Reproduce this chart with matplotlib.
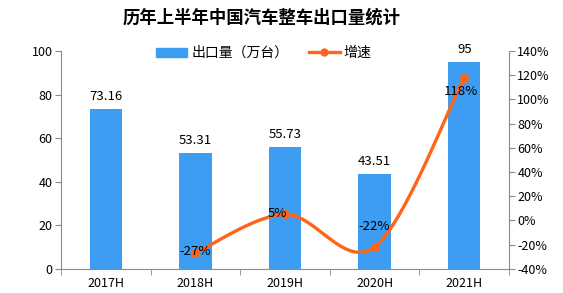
import numpy as np
import matplotlib
matplotlib.use("Agg")
import matplotlib.pyplot as plt
from matplotlib.lines import Line2D
from matplotlib.patches import Patch

plt.rcParams['font.family'] = ['Noto Sans CJK SC', 'DejaVu Sans']

categories = ["2017H", "2018H", "2019H", "2020H", "2021H"]
export_volume = [73.16, 53.31, 55.73, 43.51, 95]
growth_cats = ["2018H", "2019H", "2020H", "2021H"]
growth = [-27, 5, -22, 118]
growth_labels = ["-27%", "5%", "-22%", "118%"]

bar_color = "#3D9DF3"
line_color = "#FF6419"
axis_color = "#8C8C8C"

fig = plt.figure(figsize=(5.63, 2.93), dpi=100)
ax = fig.add_axes([61/563, 1 - 268.7/293, (509-61)/563, (268.7-51)/293])
ax2 = ax.twinx()

x = np.arange(len(categories))
ax.bar(x, export_volume, width=0.36, color=bar_color, zorder=2)
for xi, v in zip(x, export_volume):
    ax.annotate(f"{v:g}", (xi, v), xytext=(0, 6), textcoords="offset pixels",
                ha="center", va="bottom", fontsize=9.5)

ax.set_xlim(-0.5, len(categories) - 0.5)
ax.set_ylim(0, 100)
ax.set_yticks(np.arange(0, 101, 20))
ax.set_xticks(x)
ax.set_xticklabels(categories, fontsize=9)
ax.tick_params(axis="x", length=0, pad=6)
ax.set_xticks(np.arange(-0.5, len(categories), 1), minor=True)
ax.tick_params(axis="x", which="minor", length=4, color=axis_color, direction="out")
ax.tick_params(axis="y", length=4, color=axis_color, labelsize=9, pad=2)

# smooth curve (Catmull-Rom style Bezier)
gx = np.array([categories.index(c) for c in growth_cats], dtype=float)
gy = np.array(growth, dtype=float)
pts = np.column_stack([gx, gy])
n = len(pts)
curve = []
for i in range(n - 1):
    p0 = pts[i - 1] if i > 0 else pts[i]
    p1 = pts[i]
    p2 = pts[i + 1]
    p3 = pts[i + 2] if i + 2 < n else pts[i + 1]
    c1 = p1 + (p2 - p0) / 6
    c2 = p2 - (p3 - p1) / 6
    t = np.linspace(0, 1, 40)[:, None]
    seg = (1-t)**3*p1 + 3*(1-t)**2*t*c1 + 3*(1-t)*t**2*c2 + t**3*p2
    curve.append(seg if i == 0 else seg[1:])
curve = np.vstack(curve)
ax2.plot(curve[:, 0], curve[:, 1], color=line_color, lw=2.4, zorder=3)
ax2.plot(gx, gy, 'o', color=line_color, ms=5.5, zorder=4)
offsets = [(0, 1), (-8, 1), (0, 20), (-3, -14)]
for xi, yi, lab, (dx, dy) in zip(gx, gy, growth_labels, offsets):
    ax2.annotate(lab, (xi, yi), xytext=(dx, dy), textcoords="offset pixels",
                 ha="center", va="center", fontsize=9.5, zorder=5)

ax2.set_ylim(-40, 140)
ax2.set_yticks(np.arange(-40, 141, 20))
ax2.set_yticklabels([f"{v}%" for v in range(-40, 141, 20)])
ax2.tick_params(axis="y", length=4, color=axis_color, labelsize=9, pad=2)

for a in (ax, ax2):
    a.spines["top"].set_visible(False)
    a.spines["left"].set_color(axis_color)
    a.spines["right"].set_color(axis_color)
    a.spines["bottom"].set_color(axis_color)
ax.spines["right"].set_visible(False)
ax2.spines["left"].set_visible(False)
ax2.spines["bottom"].set_visible(False)

handles = [Patch(color=bar_color, label="出口量（万台）"),
           Line2D([0], [0], color=line_color, lw=2.4, marker='o', ms=5, label="增速")]
fig.legend(handles=handles, loc="center", bbox_to_anchor=(264/563, 1 - 53/293), ncol=2,
           frameon=False, fontsize=10, handlelength=2.2, handleheight=0.6,
           columnspacing=1.5, handletextpad=0.3)

fig.text(262/563, 1 - 18/293, "历年上半年中国汽车整车出口量统计", ha="center", va="center",
         fontsize=12.5, fontweight="bold")

fig.savefig("out.png", dpi=100)
